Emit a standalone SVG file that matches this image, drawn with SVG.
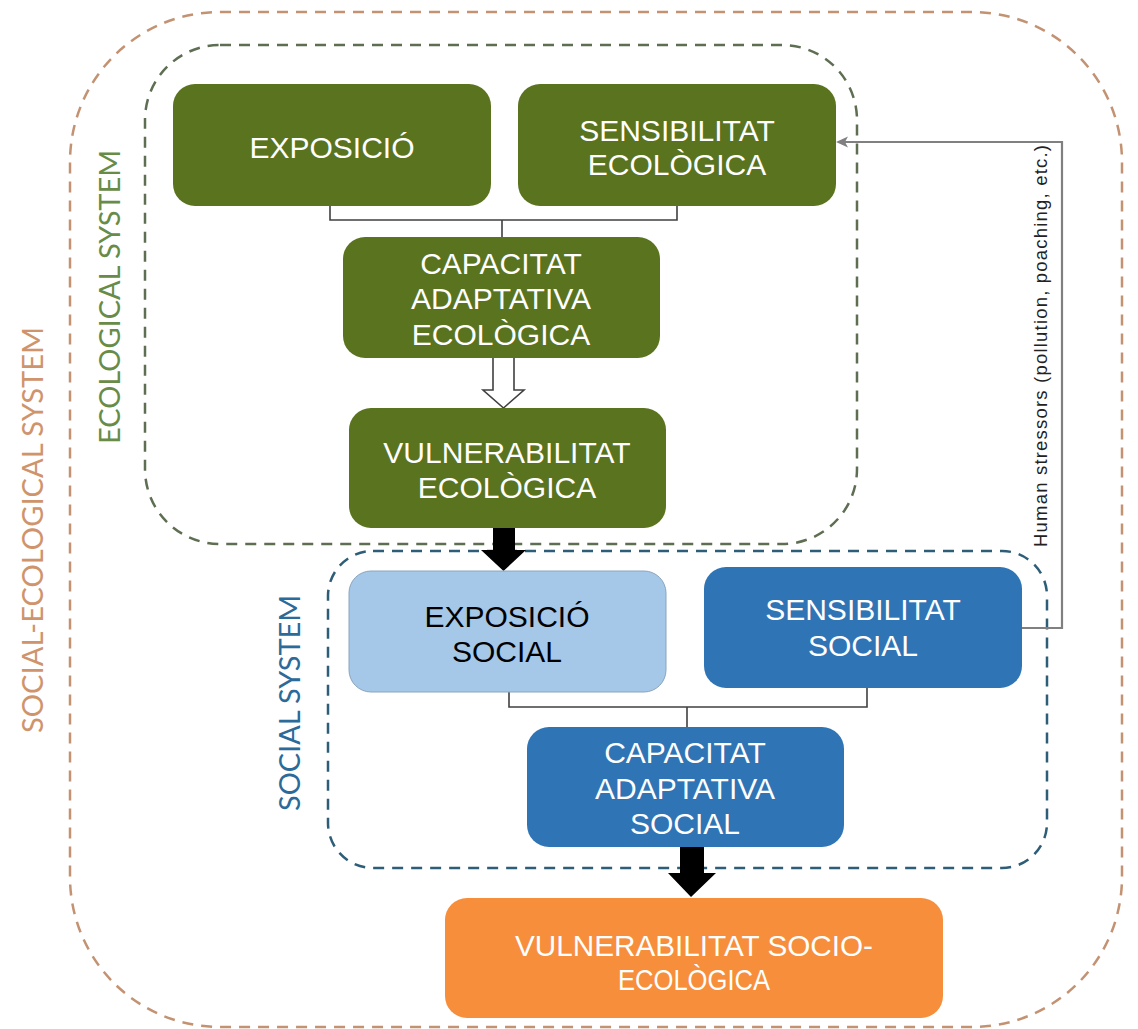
<svg xmlns="http://www.w3.org/2000/svg" width="1138" height="1029" viewBox="0 0 1138 1029">
<defs>
<style>
.sys{fill:none;stroke-width:2.5;stroke-dasharray:11 8}
.node text{font-family:"Liberation Sans",Arial,sans-serif;font-size:30px;text-anchor:middle;fill:#ffffff}
.green{fill:#5a731f}
.blue{fill:#2f74b5}
.lblue{fill:#a5c7e8;stroke:#8aa4bf;stroke-width:1}
.orange{fill:#f68e3b}
.sysl{font-family:"Lato","Open Sans",sans-serif;font-size:29px;text-anchor:middle}
.bracket{fill:none;stroke:#404040;stroke-width:1.6}
</style>
</defs>
<rect width="1138" height="1029" fill="#ffffff"/>

<g id="social-ecological-system">
<rect class="sys" x="70" y="12" width="1052" height="1015" rx="150" ry="150" stroke="#c39272"/>
<text class="sysl" transform="translate(43,530) rotate(-90)" fill="#cf946c" textLength="406" lengthAdjust="spacingAndGlyphs">SOCIAL-ECOLOGICAL SYSTEM</text>
</g>
<g id="ecological-system">
<rect class="sys" x="145" y="45" width="712" height="499" rx="75" ry="75" stroke="#5e6e52"/>
<text class="sysl" transform="translate(120,297) rotate(-90)" fill="#688c48" textLength="294" lengthAdjust="spacingAndGlyphs">ECOLOGICAL SYSTEM</text>
</g>
<g id="social-system">
<rect class="sys" x="328" y="551" width="719" height="317" rx="45" ry="45" stroke="#2e5d78"/>
<text class="sysl" transform="translate(300,703) rotate(-90)" fill="#2b6a99" textLength="216" lengthAdjust="spacingAndGlyphs">SOCIAL SYSTEM</text>
</g>

<g id="connectors">
<path class="bracket" d="M330,206 V220 H677 V206 M502,220 V237"/>
<path class="bracket" d="M509,692 V707 H867 V688 M687,707 V727"/>
<path d="M493,358 V390 H483 L503.5,408 L524,390 H514 V358" fill="#ffffff" stroke="#404040" stroke-width="1.6"/>
<path d="M493,528 V550 H481 L503.5,571 L526,550 H515 V528 Z" fill="#000000"/>
<path d="M680,847 V873 H668 L691,897 L716,873 H704 V847 Z" fill="#000000"/>
<path d="M1022,628 H1062 V142 H842" fill="none" stroke="#808080" stroke-width="2.2"/>
<path d="M836,142 L848,136.5 L845,142 L848,147.5 Z" fill="#808080"/>
<text transform="translate(1047,346) rotate(-90)" font-family="Liberation Sans,Arial,sans-serif" font-size="18.5" fill="#222222" text-anchor="middle" textLength="402" lengthAdjust="spacing">Human stressors (pollution, poaching, etc.)</text>
</g>

<g id="exposicio" class="node">
<rect class="green" x="173" y="84" width="318" height="122" rx="22"/>
<text x="332" y="158">EXPOSICIÓ</text>
</g>
<g id="sensibilitat-ecologica" class="node">
<rect class="green" x="518" y="84" width="318" height="122" rx="22"/>
<text x="677" y="141">SENSIBILITAT</text>
<text x="677" y="175">ECOLÒGICA</text>
</g>
<g id="capacitat-adaptativa-ecologica" class="node">
<rect class="green" x="343" y="237" width="317" height="121" rx="22"/>
<text x="501" y="274">CAPACITAT</text>
<text x="501" y="309">ADAPTATIVA</text>
<text x="501" y="345">ECOLÒGICA</text>
</g>
<g id="vulnerabilitat-ecologica" class="node">
<rect class="green" x="349" y="408" width="317" height="120" rx="22"/>
<text x="507" y="463">VULNERABILITAT</text>
<text x="507" y="498">ECOLÒGICA</text>
</g>
<g id="exposicio-social" class="node">
<rect class="lblue" x="349" y="571" width="317" height="121" rx="22"/>
<text x="507" y="627" style="fill:#000000">EXPOSICIÓ</text>
<text x="507" y="662" style="fill:#000000">SOCIAL</text>
</g>
<g id="sensibilitat-social" class="node">
<rect class="blue" x="704" y="567" width="318" height="121" rx="22"/>
<text x="863" y="620">SENSIBILITAT</text>
<text x="863" y="656">SOCIAL</text>
</g>
<g id="capacitat-adaptativa-social" class="node">
<rect class="blue" x="527" y="727" width="317" height="120" rx="22"/>
<text x="685" y="763">CAPACITAT</text>
<text x="685" y="799">ADAPTATIVA</text>
<text x="685" y="834">SOCIAL</text>
</g>
<g id="vulnerabilitat-socio-ecologica" class="node">
<rect class="orange" x="445" y="898" width="498" height="120" rx="22"/>
<text x="694" y="956" textLength="358" lengthAdjust="spacingAndGlyphs">VULNERABILITAT SOCIO-</text>
<text x="694" y="990" textLength="152" lengthAdjust="spacingAndGlyphs">ECOLÒGICA</text>
</g>
</svg>
